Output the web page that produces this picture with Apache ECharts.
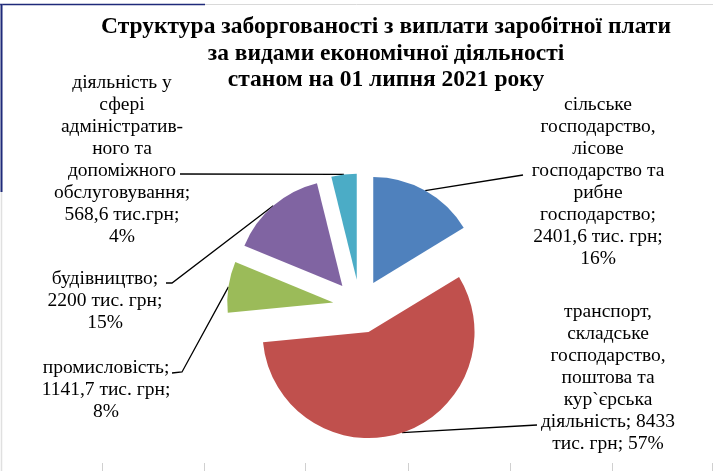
<!DOCTYPE html>
<html>
<head>
<meta charset="utf-8">
<script src="https://cdn.jsdelivr.net/npm/echarts@6/dist/echarts.min.js"></script>
<style>
html,body{margin:0;padding:0;background:#fff;}
#chart{width:717px;height:471px;}
</style>
</head>
<body>
<div id="chart"></div>
<script>
// ---- data ----
var categories = [
  'сільське господарство, лісове господарство та рибне господарство',
  'транспорт, складське господарство, поштова та кур`єрська діяльність',
  'промисловість',
  'будівництво',
  'діяльність у сфері адміністративного та допоміжного обслуговування'
];
var values = [2401.6, 8433, 1141.7, 2200, 568.6];
var labelTexts = [
  'сільське\nгосподарство,\nлісове\nгосподарство та\nрибне\nгосподарство;\n2401,6 тис. грн;\n16%',
  'транспорт,\nскладське\nгосподарство,\nпоштова та\nкур`єрська\nдіяльність; 8433\nтис. грн; 57%',
  'промисловість;\n1141,7 тис. грн;\n8%',
  'будівництво;\n2200 тис. грн;\n15%',
  'діяльність у\nсфері\nадміністратив-\nного та\nдопоміжного\nобслуговування;\n568,6 тис.грн;\n4%'
];
var colors = ['#4F81BD', '#C0504D', '#9BBB59', '#8064A2', '#4BACC6'];
var titleLines = ['Структура заборгованості з виплати заробітної плати', 'за видами економічної діяльності', 'станом на 01 липня 2021 року'];

// ---- layout (label placement, not data) ----
var labelPos = [
  {x: 598, y: 182, line: [[523, 175]]},
  {x: 608, y: 378, line: [[537, 425]]},
  {x: 106, y: 390, line: [[182, 372], [172, 373]]},
  {x: 105, y: 301, line: [[172, 283], [166, 283]]},
  {x: 122, y: 160, line: [[180, 174]]}
];

var cx = 360, cy = 306.5, R = 106, OFF = 27;

var chart = echarts.init(document.getElementById('chart'), null, {renderer: 'canvas'});

var total = values.reduce(function (a, b) { return a + b; }, 0);
function midAngle(i) {
  var start = 0;
  for (var k = 0; k < i; k++) start += values[k];
  return (start + values[i] / 2) / total * Math.PI * 2;
}

// one pie series per exploded slice (same full data, only slice i visible)
var series = values.map(function (v, i) {
  var m = midAngle(i);
  var sx = cx + Math.sin(m) * OFF, sy = cy - Math.cos(m) * OFF;
  return {
    type: 'pie',
    center: [sx, sy],
    radius: [0, R],
    startAngle: 90,
    clockwise: true,
    silent: true,
    avoidLabelOverlap: false,
    emphasis: {disabled: true},
    data: categories.map(function (c, j) {
      var vis = (j === i);
      return {
        name: c,
        value: values[j],
        itemStyle: {color: vis ? colors[j] : 'rgba(0,0,0,0)'},
        label: {show: vis},
        labelLine: {show: vis}
      };
    }),
    label: {
      formatter: function (p) { return labelTexts[p.dataIndex]; },
      fontFamily: 'Liberation Serif',
      fontSize: 19.5,
      lineHeight: 22,
      color: '#000',
      align: 'center'
    },
    labelLine: {
      smooth: false,
      lineStyle: {color: '#000', width: 1.3}
    },
    labelLayout: function (params) {
      var k = params.dataIndex;
      var lp = labelPos[k];
      var mm = midAngle(k);
      var p0 = [sx + Math.sin(mm) * R, sy - Math.cos(mm) * R];
      var pts = [p0].concat(lp.line);
      if (pts.length < 3) pts.push(pts[pts.length - 1]);
      return {
        x: lp.x,
        y: lp.y,
        align: 'center',
        verticalAlign: 'middle',
        labelLinePoints: pts
      };
    }
  };
});

var option = {
  backgroundColor: '#ffffff',
  animation: false,
  title: {
    text: titleLines.join('\n'),
    left: 381,
    top: 9,
    textAlign: 'center',
    textStyle: {
      fontFamily: 'Liberation Serif',
      fontWeight: 'bold',
      fontSize: 23.5,
      lineHeight: 26.5,
      color: '#000'
    }
  },
  graphic: [
    {type: 'line', shape: {x1: 0, y1: 4.5, x2: 713, y2: 4.5}, style: {stroke: '#d9d9d9', lineWidth: 1}, silent: true},
    {type: 'line', shape: {x1: 0, y1: 4.5, x2: 205, y2: 4.5}, style: {stroke: '#1f2a7a', lineWidth: 1.5}, silent: true},
    {type: 'line', shape: {x1: 1.5, y1: 4, x2: 1.5, y2: 471}, style: {stroke: '#e0e0e0', lineWidth: 1.5}, silent: true},
    {type: 'line', shape: {x1: 1.5, y1: 4, x2: 1.5, y2: 192}, style: {stroke: '#1f2a7a', lineWidth: 2}, silent: true}
  ].concat([102, 204, 305, 408, 510, 612, 712].map(function (x) {
    return {type: 'line', shape: {x1: x + 0.5, y1: 463, x2: x + 0.5, y2: 471}, style: {stroke: '#d0d0d0', lineWidth: 1}, silent: true};
  })),
  series: series
};
chart.setOption(option);
</script>
</body>
</html>
